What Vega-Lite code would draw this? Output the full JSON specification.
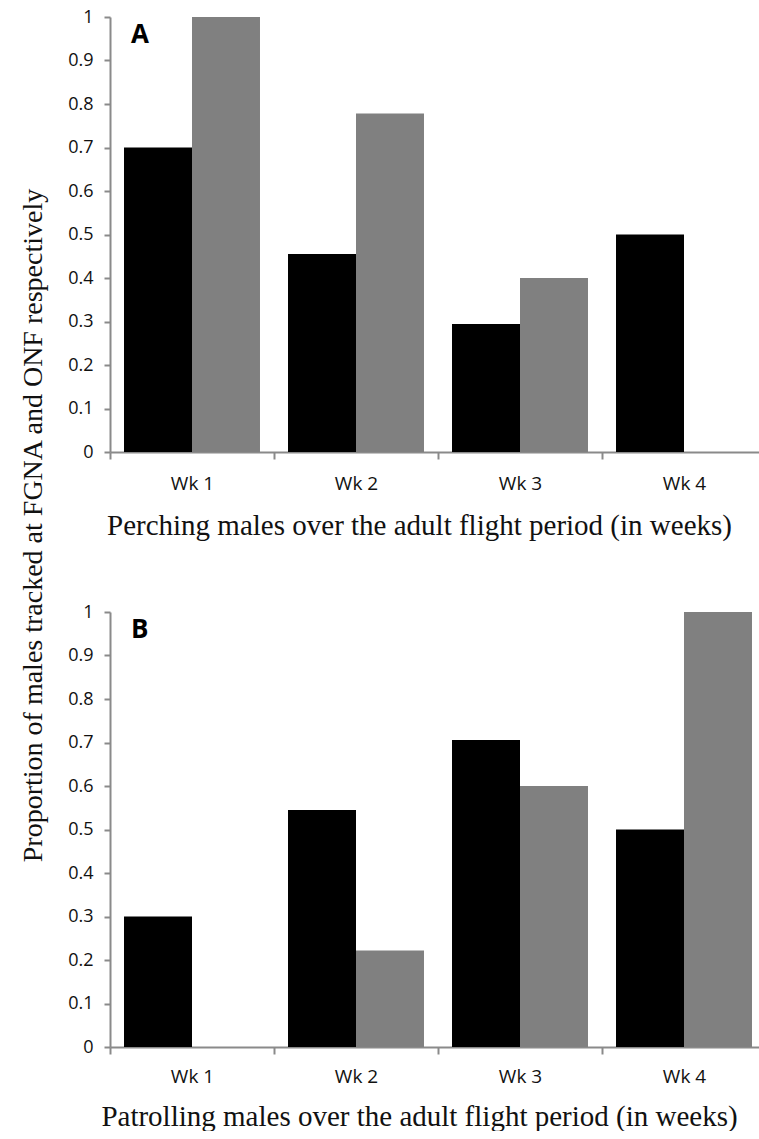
{
  "$schema": "https://vega.github.io/schema/vega-lite/v6.json",
  "padding": {"left": 19, "top": 8, "right": 0, "bottom": 0},
  "background": "white",
  "bounds": "flush",
  "spacing": 160,
  "config": {
    "view": {"stroke": null},
    "axis": {
      "grid": false,
      "domainColor": "#8a8a8a",
      "domainWidth": 2,
      "tickColor": "#8a8a8a",
      "tickWidth": 2,
      "labelColor": "#111111",
      "labelFont": "Open Sans",
      "titleFont": "Liberation Serif",
      "titleFontSize": 28,
      "titleFontWeight": "normal",
      "titleColor": "#111111"
    }
  },
  "datasets": {
    "perch": [
      {"week": "Wk 1", "site": "FGNA", "value": 0.7},
      {"week": "Wk 1", "site": "ONF", "value": 1.0},
      {"week": "Wk 2", "site": "FGNA", "value": 0.455},
      {"week": "Wk 2", "site": "ONF", "value": 0.778},
      {"week": "Wk 3", "site": "FGNA", "value": 0.294},
      {"week": "Wk 3", "site": "ONF", "value": 0.4},
      {"week": "Wk 4", "site": "FGNA", "value": 0.5},
      {"week": "Wk 4", "site": "ONF", "value": 0}
    ],
    "patrol": [
      {"week": "Wk 1", "site": "FGNA", "value": 0.3},
      {"week": "Wk 1", "site": "ONF", "value": 0},
      {"week": "Wk 2", "site": "FGNA", "value": 0.545},
      {"week": "Wk 2", "site": "ONF", "value": 0.222},
      {"week": "Wk 3", "site": "FGNA", "value": 0.706},
      {"week": "Wk 3", "site": "ONF", "value": 0.6},
      {"week": "Wk 4", "site": "FGNA", "value": 0.5},
      {"week": "Wk 4", "site": "ONF", "value": 1.0}
    ],
    "labelA": [{"week": "Wk 1", "value": 0.94, "panel": "A"}],
    "labelB": [{"week": "Wk 1", "value": 0.94, "panel": "B"}]
  },
  "vconcat": [
    {
      "width": 656,
      "height": 435,
      "encoding": {
        "x": {
          "field": "week", "type": "nominal", "sort": null,
          "scale": {"domain": ["Wk 1", "Wk 2", "Wk 3", "Wk 4"], "paddingInner": 0, "paddingOuter": 0},
          "axis": {
            "title": "Perching males over the adult flight period (in weeks)",
            "labelAngle": 0, "tickBand": "extent", "tickSize": 7,
            "labelFontSize": 19, "labelBaseline": "alphabetic", "labelPadding": 30,
            "titleFontSize": 29,
            "titleX": 309, "titleY": 82, "titleAlign": "center", "titleBaseline": "alphabetic"
          }
        },
        "y": {
          "field": "value", "type": "quantitative",
          "scale": {"domain": [0, 1], "nice": false},
          "axis": {
            "values": [0, 0.1, 0.2, 0.3, 0.4, 0.5, 0.6, 0.7, 0.8, 0.9, 1],
            "format": "~g", "tickSize": 6, "labelPadding": 11, "labelFontSize": 18,
            "title": "Proportion of males tracked at FGNA and ONF respectively",
            "titleX": -69, "titleY": 508, "titleAlign": "center", "titleAngle": -90, "titleBaseline": "alphabetic"
          }
        }
      },
      "layer": [
        {
          "data": {"name": "perch"},
          "mark": {"type": "bar"},
          "encoding": {
            "xOffset": {"field": "site", "type": "nominal", "sort": ["FGNA", "ONF"], "scale": {"paddingInner": 0, "paddingOuter": 0.206}},
            "color": {"field": "site", "type": "nominal", "scale": {"domain": ["FGNA", "ONF"], "range": ["#000000", "#808080"]}, "legend": null}
          }
        },
        {
          "data": {"name": "labelA"},
          "mark": {"type": "text", "align": "left", "baseline": "alphabetic", "dx": -61, "font": "Open Sans", "fontSize": 26, "fontWeight": "bold", "color": "#000000"},
          "encoding": {"text": {"field": "panel", "type": "nominal"}}
        }
      ]
    },
    {
      "width": 656,
      "height": 435,
      "encoding": {
        "x": {
          "field": "week", "type": "nominal", "sort": null,
          "scale": {"domain": ["Wk 1", "Wk 2", "Wk 3", "Wk 4"], "paddingInner": 0, "paddingOuter": 0},
          "axis": {
            "title": "Patrolling males over the adult flight period (in weeks)",
            "labelAngle": 0, "tickBand": "extent", "tickSize": 7,
            "labelFontSize": 19, "labelBaseline": "alphabetic", "labelPadding": 28,
            "titleFontSize": 29,
            "titleX": 309, "titleY": 78, "titleAlign": "center", "titleBaseline": "alphabetic"
          }
        },
        "y": {
          "field": "value", "type": "quantitative",
          "scale": {"domain": [0, 1], "nice": false},
          "axis": {
            "values": [0, 0.1, 0.2, 0.3, 0.4, 0.5, 0.6, 0.7, 0.8, 0.9, 1],
            "format": "~g", "tickSize": 6, "labelPadding": 11, "labelFontSize": 18,
            "title": null
          }
        }
      },
      "layer": [
        {
          "data": {"name": "patrol"},
          "mark": {"type": "bar"},
          "encoding": {
            "xOffset": {"field": "site", "type": "nominal", "sort": ["FGNA", "ONF"], "scale": {"paddingInner": 0, "paddingOuter": 0.206}},
            "color": {"field": "site", "type": "nominal", "scale": {"domain": ["FGNA", "ONF"], "range": ["#000000", "#808080"]}, "legend": null}
          }
        },
        {
          "data": {"name": "labelB"},
          "mark": {"type": "text", "align": "left", "baseline": "alphabetic", "dx": -61, "font": "Open Sans", "fontSize": 26, "fontWeight": "bold", "color": "#000000"},
          "encoding": {"text": {"field": "panel", "type": "nominal"}}
        }
      ]
    }
  ]
}
